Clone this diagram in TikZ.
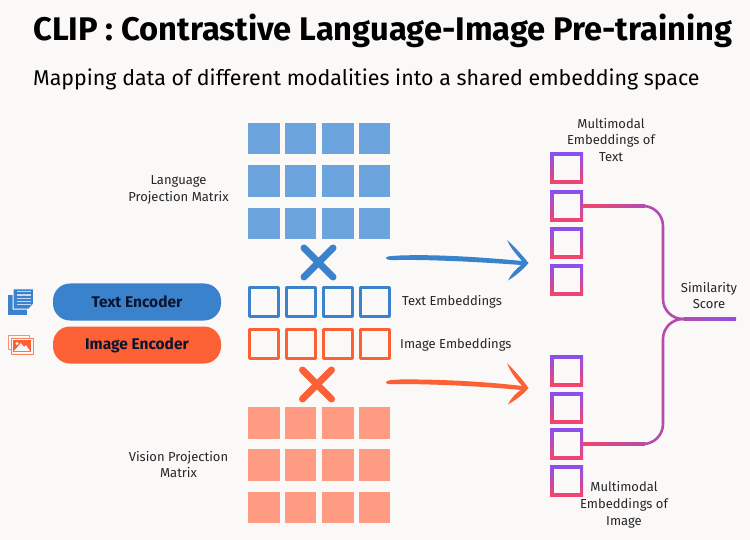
\documentclass[tikz,border=0pt]{standalone}
\usepackage{fontspec}
\setmainfont{Fira Sans}
\usetikzlibrary{calc}
\definecolor{pagebg}{HTML}{FBF9F8}
\definecolor{txtblue}{HTML}{3A82CC}
\definecolor{imgorange}{HTML}{FC6035}
\definecolor{gridblue}{HTML}{6BA4DC}
\definecolor{gridorange}{HTML}{FF9B82}
\definecolor{mmpurple}{HTML}{8A4FF0}
\definecolor{mmred}{HTML}{F5456A}
\definecolor{linkmid}{HTML}{B34CAE}
\definecolor{inkdark}{HTML}{0B1530}
\tikzset{
	gridcell/.style={rectangle, minimum size=31.5pt, inner sep=0pt, outer sep=0pt, anchor=north west},
	embcell/.style={rectangle, draw, line width=3pt, minimum size=29pt, inner sep=0pt, outer sep=0pt, anchor=north west},
	mmcell/.style={rectangle, top color=mmpurple, bottom color=mmred, minimum width=33pt, minimum height=31pt, inner sep=0pt, outer sep=0pt, anchor=north west},
	mmhole/.style={rectangle, fill=pagebg, minimum width=26pt, minimum height=24pt, inner sep=0pt},
	pill/.style={rectangle, rounded corners=17pt, minimum width=168pt, minimum height=37pt, inner sep=0pt, text=inkdark, font=\fontsize{15.5}{18}\selectfont\bfseries},
	lbl/.style={align=center, font=\fontsize{13}{16.8}\selectfont, text=black!85},
	crossbar/.style={line width=7pt, line cap=round},
}
\begin{document}
\begin{tikzpicture}[x=1pt, y=-1pt, line join=round]
	\useasboundingbox (0,0) rectangle (750,540);
	\fill[pagebg] (0,0) rectangle (750,540);
	% heading
	\node[anchor=west, inner sep=0pt, font=\fontsize{32.7}{38}\selectfont\bfseries] (title) at (33,31) {CLIP : Contrastive Language-Image Pre-training};
	\node[anchor=west, inner sep=0pt, font=\fontsize{21.4}{26}\selectfont] (subtitle) at (33,79) {Mapping data of different modalities into a shared embedding space};
	% projection matrices
	\foreach \c/\x in {1/248,2/284.5,3/322,4/358.5} {
		\foreach \r/\y in {1/123,2/165.5,3/208} \node[gridcell, fill=gridblue] (lang\r\c) at (\x,\y) {};
		\foreach \r/\y in {1/407,2/449,3/491.5} \node[gridcell, fill=gridorange] (vis\r\c) at (\x,\y) {};
		\node[embcell, draw=txtblue] (temb\c) at (\x+1.5,287.5) {};
		\node[embcell, draw=imgorange] (iemb\c) at (\x+1.5,329.5) {};
	}
	\draw[crossbar, txtblue] (304,248) -- (333,277) (333,248) -- (304,277);
	\draw[crossbar, imgorange] (302.5,370) -- (331.5,399) (331.5,370) -- (302.5,399);
	% encoders
	\node[pill, fill=txtblue] (textenc) at (137,302) {Text Encoder};
	\node[pill, fill=imgorange] (imgenc) at (137,345) {Image Encoder};
	% icons
	\fill[txtblue] (8,295) rectangle (27,315);
	\fill[txtblue, draw=pagebg, line width=1pt] (13,289) -- (33.5,289) -- (33.5,304) -- (29,309) -- (13,309) -- cycle;
	\foreach \y in {292,295,298,301,304} \draw[white!70!txtblue, line width=1pt] (17,\y) -- (31,\y);
	\draw[imgorange!70, line width=.8pt] (8,335) rectangle (29,349);
	\fill[pagebg] (11,338) rectangle (33,354);
	\draw[imgorange!80, line width=.8pt] (11,338) rectangle (33,354);
	\fill[imgorange] (13,340) rectangle (31,352);
	\fill[pagebg] (14,351) -- (21,343) -- (24,347) -- (26,345) -- (30,351) -- cycle;
	\fill[pagebg] (17,343.5) circle (1.6);
	% multimodal embeddings
	\foreach \n/\y in {1/153,2/190.5,3/227.5,4/264.5} {
		\node[mmcell] (mmt\n) at (550,\y) {};
		\node[mmhole] (holet\n) at (mmt\n) {};
	}
	\foreach \n/\y in {1/355,2/392,3/428.5,4/465.5} {
		\node[mmcell] (mmi\n) at (550,\y) {};
		\node[mmhole] (holei\n) at (mmi\n) {};
	}
	% similarity links
	\coordinate (kneet) at (645,206);
	\coordinate (kneei) at (645,444);
	\coordinate (merge) at (688,319);
	\coordinate (score) at (736,319);
	\shade[left color=mmred, right color=linkmid] ($(mmt2.east)+(0,-1.3)$) rectangle ($(kneet)+(0,1.3)$);
	\shade[left color=mmred, right color=linkmid] ($(mmi3.east)+(0,-1.3)$) rectangle ($(kneei)+(0,1.3)$);
	\draw[linkmid, line width=2.6pt, rounded corners=20pt] (kneet) -- (663,206) -- (663,319) -- (merge);
	\draw[linkmid, line width=2.6pt, rounded corners=20pt] (kneei) -- (663,444) -- (663,319) -- (merge);
	\shade[left color=linkmid, right color=mmpurple!85!linkmid] ($(merge)+(-4,-1.6)$) rectangle ($(score)+(0,1.6)$);
	% arrows
	\fill[txtblue] (386,258) .. controls (386,256) and (392,256) .. (400,255.5) .. controls (440,254) and (490,258) .. (522,261) .. controls (515,253) and (510,247) .. (507,240) .. controls (514,246) and (523,256) .. (528.5,263) .. controls (523,270) and (514,277) .. (508,280.5) .. controls (511,274) and (516,269) .. (521,265) .. controls (480,262) and (430,259.5) .. (398,260) .. controls (392,260.5) and (386,260) .. (386,258) -- cycle;
	\fill[imgorange] (386,382.5) .. controls (386,380) and (392,380) .. (400,379.5) .. controls (440,379) and (490,382) .. (522,386) .. controls (515,378) and (510,371) .. (507,363) .. controls (514,370) and (523,380) .. (528.5,388) .. controls (523,395) and (514,401) .. (508,404.5) .. controls (511,398) and (516,393) .. (521,390) .. controls (480,386) and (430,384) .. (398,384) .. controls (392,384.5) and (386,384.5) .. (386,382.5) -- cycle;
	% labels
	\node[lbl] (langlbl) at (178.5,190) {Language\\Projection Matrix};
	\node[lbl] (vislbl) at (178.5,464.5) {Vision Projection\\Matrix};
	\node[lbl, anchor=west, inner sep=0pt] (tembl) at (402,302) {Text Embeddings};
	\node[lbl, anchor=west, inner sep=0pt] (iembl) at (400,344.5) {Image Embeddings};
	\node[lbl] (mmtl) at (611,140) {Multimodal\\Embeddings of\\Text};
	\node[lbl] (mmil) at (624,505) {Multimodal\\Embeddings of\\Image};
	\node[lbl] (simlbl) at (709,295.5) {Similarity\\Score};
\end{tikzpicture}
\end{document}
